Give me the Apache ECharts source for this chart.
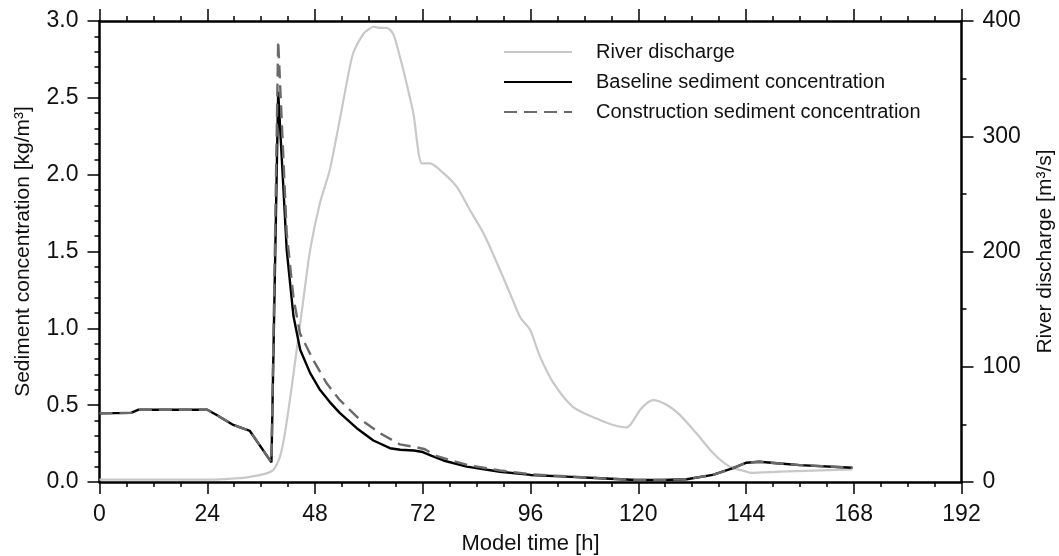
<!DOCTYPE html>
<html>
<head>
<meta charset="utf-8">
<script src="https://cdn.jsdelivr.net/npm/echarts@6/dist/echarts.min.js"></script>
<style>
html,body{margin:0;padding:0;background:#fff;}
#chart{width:1059px;height:556px;}
</style>
</head>
<body>
<div id="chart"></div>
<script>
// ---- Data ----
const seriesNames = ['River discharge', 'Baseline sediment concentration', 'Construction sediment concentration'];

const baselineHours = [0, 7, 8.6, 24, 26.1, 29.8, 33.5, 38.3, 39.8, 41.7, 43.2, 44.7, 46.9, 49.1, 51.3, 53.5, 57.3, 61, 64.7, 67, 70, 72, 74, 76.6, 81.8, 89.2, 96, 104, 111.5, 119.6, 125.5, 130.8, 136.6, 141.1, 144, 147, 151.6, 156, 167.7];
const baselineConc = [0.447, 0.45, 0.47, 0.47, 0.436, 0.371, 0.332, 0.128, 2.54, 1.51, 1.08, 0.86, 0.71, 0.60, 0.52, 0.45, 0.35, 0.27, 0.22, 0.21, 0.205, 0.195, 0.17, 0.14, 0.10, 0.067, 0.046, 0.035, 0.024, 0.013, 0.013, 0.018, 0.046, 0.09, 0.125, 0.132, 0.12, 0.11, 0.093];

const constructionHours = [0, 7, 8.6, 24, 26.1, 29.8, 33.5, 38.3, 39.8, 41.7, 43.2, 44.65, 47.6, 50.6, 53.5, 57.3, 62.5, 66.9, 70.6, 72.5, 75, 78.1, 82, 89.2, 96, 104, 111.5, 119.6, 125.5, 130.8, 136.6, 141.1, 144, 147, 151.6, 156, 167.7];
const constructionConc = [0.447, 0.45, 0.47, 0.47, 0.436, 0.371, 0.332, 0.128, 2.87, 1.62, 1.2, 0.967, 0.794, 0.642, 0.534, 0.425, 0.317, 0.245, 0.226, 0.213, 0.17, 0.143, 0.11, 0.075, 0.05, 0.037, 0.025, 0.013, 0.013, 0.018, 0.046, 0.09, 0.125, 0.132, 0.12, 0.11, 0.093];

const dischargeHours = [0, 24, 28, 32, 35, 37.2, 38.7, 40.2, 41.2, 42.4, 43.9, 45.4, 46.9, 49.1, 51.3, 53.5, 55, 56.5, 58.8, 60, 61, 62.5, 64, 65.4, 66.5, 67.7, 69.9, 71.8, 73.6, 76.6, 79.6, 82.5, 85.5, 87.3, 89.2, 91.4, 93.7, 95.9, 98.1, 101.1, 105.5, 110.7, 114.4, 117.4, 118.5, 120.4, 121.8, 123.3, 126.3, 129.3, 133, 136.7, 140.4, 144.1, 145, 151.6, 167.7];
const dischargeFlow = [2, 2, 2.5, 3.5, 5.5, 7.5, 10.4, 22, 40, 71, 114, 158, 201, 242, 271, 314, 345, 372, 389, 393, 395, 394, 394, 389, 375, 357, 320, 276.5, 276.5, 268, 256, 236, 216, 201, 184, 164, 143, 132, 109, 86, 65, 55, 49.5, 47.4, 51, 62.5, 68, 71, 67, 58, 42, 25, 13.3, 9, 8, 9, 11];

const xTicks = [0, 24, 48, 72, 96, 120, 144, 168, 192];
const leftTicks = ['0.0', '0.5', '1.0', '1.5', '2.0', '2.5', '3.0'];
const rightTicks = [0, 100, 200, 300, 400];

function pairs(xs, ys) { return xs.map((x, i) => [x, ys[i]]); }

const FONT = 'Liberation Sans, Arial, Helvetica, sans-serif';
const TEXT = '#111';
const axisLineStyle = { color: '#000', width: 2.5 };
const tickStyle = { color: '#000', width: 1.5 };

const chart = echarts.init(document.getElementById('chart'), null, { renderer: 'canvas' });

const option = {
  backgroundColor: '#fff',
  animation: false,
  grid: { left: 99.5, right: 97.5, top: 21, bottom: 74, containLabel: false, outerBoundsMode: 'none', show: false },
  legend: {
    orient: 'vertical',
    left: 503,
    top: 42,
    padding: 0,
    itemWidth: 68,
    itemHeight: 20,
    itemGap: 10,
    itemStyle: { color: 'rgba(0,0,0,0)', borderWidth: 0, opacity: 0 },
    textStyle: { fontFamily: FONT, fontSize: 20, color: TEXT, lineHeight: 20, padding: [0, 0, 0, 19] },
    data: seriesNames
  },
  xAxis: [{
    type: 'value', position: 'bottom', min: 0, max: 192, interval: 24,
    name: 'Model time [h]', nameLocation: 'middle', nameGap: 51,
    nameTextStyle: { fontFamily: FONT, fontSize: 22, color: TEXT },
    axisLine: { show: true, onZero: false, lineStyle: axisLineStyle },
    axisTick: { show: true, inside: false, length: 12, lineStyle: tickStyle },
    minorTick: { show: true, splitNumber: 4, length: 5, lineStyle: tickStyle },
    axisLabel: { fontFamily: FONT, fontSize: 23, color: TEXT, margin: 21,
      formatter: v => xTicks.indexOf(v) >= 0 ? String(v) : '' },
    splitLine: { show: false }, minorSplitLine: { show: false }
  }, {
    type: 'value', position: 'top', min: 0, max: 192, interval: 24,
    axisLine: { show: true, onZero: false, lineStyle: axisLineStyle },
    axisTick: { show: true, inside: false, length: 12, lineStyle: tickStyle },
    minorTick: { show: true, splitNumber: 4, length: 5, lineStyle: tickStyle },
    axisLabel: { show: false },
    splitLine: { show: false }, minorSplitLine: { show: false }
  }],
  yAxis: [{
    type: 'value', position: 'left', min: 0, max: 3, interval: 0.5,
    name: 'Sediment concentration [kg/m³]', nameLocation: 'middle', nameGap: 66, nameRotate: 90,
    nameTextStyle: { fontFamily: FONT, fontSize: 21, color: TEXT },
    axisLine: { show: true, onZero: false, lineStyle: axisLineStyle },
    axisTick: { show: true, inside: false, length: 12, lineStyle: tickStyle },
    minorTick: { show: true, splitNumber: 5, length: 5, lineStyle: tickStyle },
    axisLabel: { fontFamily: FONT, fontSize: 23, color: TEXT, margin: 21,
      formatter: v => leftTicks[Math.round(v * 2)] },
    splitLine: { show: false }, minorSplitLine: { show: false }
  }, {
    type: 'value', position: 'right', min: 0, max: 400, interval: 100,
    name: 'River discharge [m³/s]', nameLocation: 'middle', nameGap: 73, nameRotate: 90,
    nameTextStyle: { fontFamily: FONT, fontSize: 21, color: TEXT },
    axisLine: { show: true, onZero: false, lineStyle: axisLineStyle },
    axisTick: { show: true, inside: false, length: 12, lineStyle: tickStyle },
    minorTick: { show: true, splitNumber: 2, length: 5, lineStyle: tickStyle },
    axisLabel: { fontFamily: FONT, fontSize: 23, color: TEXT, margin: 21,
      formatter: v => rightTicks.indexOf(v) >= 0 ? String(v) : '' },
    splitLine: { show: false }, minorSplitLine: { show: false }
  }],
  series: [{
    name: seriesNames[0], type: 'line', xAxisIndex: 0, yAxisIndex: 1,
    data: pairs(dischargeHours, dischargeFlow),
    symbol: 'none', smooth: 0.25,
    lineStyle: { color: '#c8c8c8', width: 2.2 },
    itemStyle: { color: '#c8c8c8' },
    z: 2
  }, {
    name: seriesNames[1], type: 'line', xAxisIndex: 0, yAxisIndex: 0,
    data: pairs(baselineHours, baselineConc),
    symbol: 'none', smooth: false,
    lineStyle: { color: '#000', width: 2.4 },
    itemStyle: { color: '#000' },
    z: 3
  }, {
    name: seriesNames[2], type: 'line', xAxisIndex: 0, yAxisIndex: 0,
    data: pairs(constructionHours, constructionConc),
    symbol: 'none', smooth: false,
    lineStyle: { color: '#6a6a6a', width: 2.4, type: [13, 7] },
    itemStyle: { color: '#6a6a6a' },
    z: 4
  }, {
    // empty series that binds the top (tick-only) axis
    name: '_top', type: 'line', xAxisIndex: 1, yAxisIndex: 0, data: [], symbol: 'none', silent: true
  }]
};

chart.setOption(option);
</script>
</body>
</html>
